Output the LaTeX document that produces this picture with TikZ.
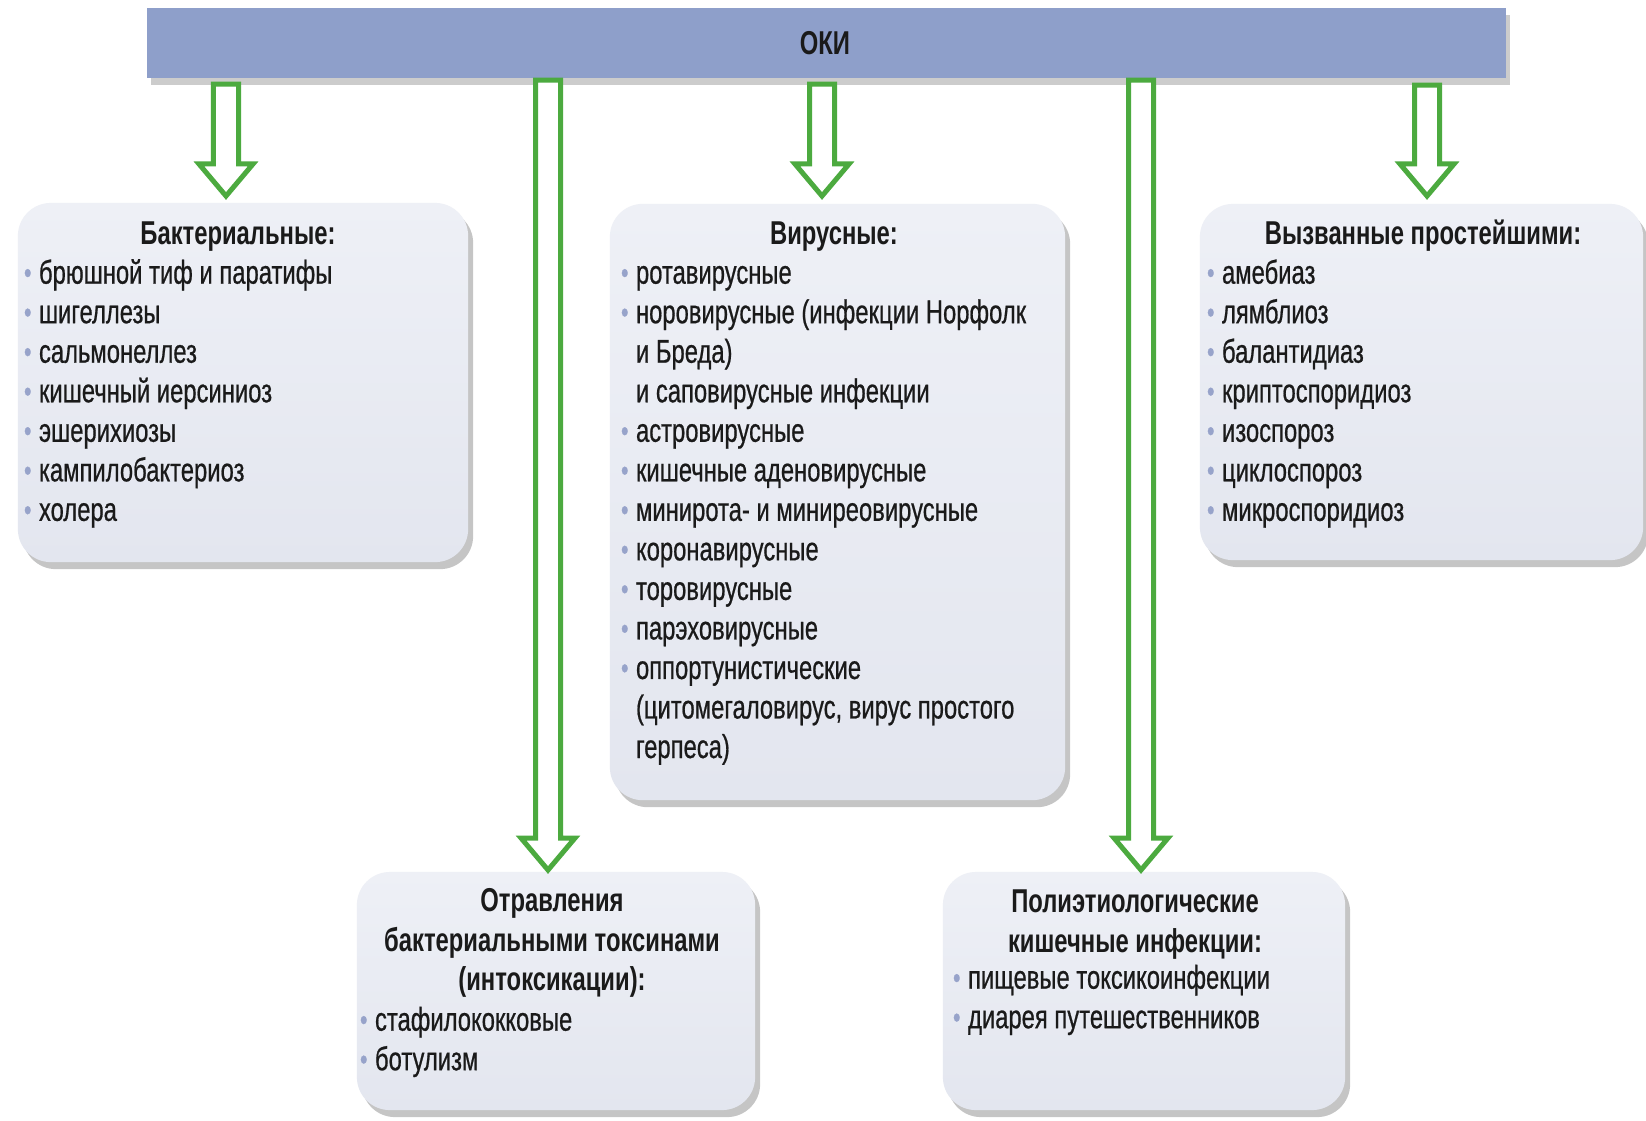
\documentclass[tikz,border=0pt]{standalone}
\usepackage{fontspec}
\setmainfont[FakeStretch=0.72, UprightFeatures={FakeBold=0.6}]{Liberation Sans}
\usetikzlibrary{shadows,calc}
\definecolor{barc}{HTML}{8E9FCA}
\definecolor{grn}{HTML}{4CAA3F}
\definecolor{boxtop}{HTML}{EEF0F6}
\definecolor{boxbot}{HTML}{E3E6EF}
\definecolor{bulc}{HTML}{97A3CA}
\definecolor{txt}{HTML}{1A1A1A}
\newcommand\bl{\strut\makebox[1.5mm][l]{\raisebox{0.2pt}{\textcolor{bulc}{\fontsize{8.5}{8.5}\selectfont •}}}}
\newcommand\cl{\strut\hspace*{1.5mm}}
\newcommand\blockarrow[2]{\draw[garr] let \p1=(#1), \p2=(#2) in
  (\x1-0.125cm,\y1) -- (\x1+0.125cm,\y1) -- (\x1+0.125cm,\y2+0.32cm) -- (\x1+0.27cm,\y2+0.32cm)
  -- (\x1,\y2) -- (\x1-0.27cm,\y2+0.32cm) -- (\x1-0.125cm,\y2+0.32cm) -- cycle;}
\begin{document}
\begin{tikzpicture}[x=0.01cm,y=-0.01cm,
  boxst/.style={rectangle, rounded corners=0.33cm, top color=boxtop, bottom color=boxbot, draw=none, inner sep=0pt,
    drop shadow={shadow xshift=0.05cm, shadow yshift=-0.07cm, fill=black!50, opacity=0.45}},
  barst/.style={rectangle, fill=barc, draw=none, inner sep=0pt,
    drop shadow={shadow xshift=0.04cm, shadow yshift=-0.07cm, fill=black!50, opacity=0.4}},
  txtst/.style={inner sep=0pt, outer sep=0pt, text=txt, font=\fontsize{9.4}{11.24}\selectfont},
  titlest/.style={txtst, align=center, anchor=north, font=\fontsize{9.4}{11.24}\selectfont\bfseries},
  listst/.style={txtst, align=left, anchor=north west},
  garr/.style={draw=grn, fill=white, line width=0.05cm, line join=miter}]
\useasboundingbox (0,0) rectangle (1646,1120);
\fill[white] (0,0) rectangle (1646,1120);

% top bar
\node[barst, minimum width=13.59cm, minimum height=0.70cm] (bar) at (826.5,43) {};
\node[txtst, font=\fontsize{9.4}{11.24}\selectfont\bfseries] (okit) at (825,43) {ОКИ};

% boxes
\node[boxst, minimum width=4.50cm, minimum height=3.59cm] (bact) at (243,382.5) {};
\node[boxst, minimum width=4.55cm, minimum height=5.96cm] (vir) at (837.5,502) {};
\node[boxst, minimum width=4.43cm, minimum height=3.56cm] (proto) at (1421.5,382) {};
\node[boxst, minimum width=3.98cm, minimum height=2.38cm] (tox) at (556,991) {};
\node[boxst, minimum width=4.02cm, minimum height=2.38cm] (poly) at (1144,991) {};

% arrows
\coordinate (a1s) at (226,84);  \coordinate (a1e) at (226,196);
\coordinate (a2s) at (548,80);  \coordinate (a2e) at (548,870);
\coordinate (a3s) at (822,84);  \coordinate (a3e) at (822,196);
\coordinate (a4s) at (1141,80); \coordinate (a4e) at (1141,870);
\coordinate (a5s) at (1427,85); \coordinate (a5e) at (1427,196);
\blockarrow{a1s}{a1e}
\blockarrow{a2s}{a2e}
\blockarrow{a3s}{a3e}
\blockarrow{a4s}{a4e}
\blockarrow{a5s}{a5e}

% bacterial
\node[titlest] (bactT) at (238,217) {\strut Бактериальные:};
\node[listst] (bactL) at (24,256) {\bl брюшной тиф и паратифы\\ \bl шигеллезы\\ \bl сальмонеллез\\ \bl кишечный иерсиниоз\\ \bl эшерихиозы\\ \bl кампилобактериоз\\ \bl холера};

% viral
\node[titlest] (virT) at (834,217) {\strut Вирусные:};
\node[listst] (virL) at (621,256) {\bl ротавирусные\\ \bl норовирусные (инфекции Норфолк\\ \cl и Бреда)\\ \cl и саповирусные инфекции\\ \bl астровирусные\\ \bl кишечные аденовирусные\\ \bl минирота- и миниреовирусные\\ \bl коронавирусные\\ \bl торовирусные\\ \bl парэховирусные\\ \bl оппортунистические\\ \cl (цитомегаловирус, вирус простого\\ \cl герпеса)};

% protozoa
\node[titlest] (protoT) at (1423,217) {\strut Вызванные простейшими:};
\node[listst] (protoL) at (1207,256) {\bl амебиаз\\ \bl лямблиоз\\ \bl балантидиаз\\ \bl криптоспоридиоз\\ \bl изоспороз\\ \bl циклоспороз\\ \bl микроспоридиоз};

% toxins
\node[titlest] (toxT) at (552,884) {\strut Отравления\\ \strut бактериальными токсинами\\ \strut (интоксикации):};
\node[listst] (toxL) at (360,1003) {\bl стафилококковые\\ \bl ботулизм};

% polyetiological
\node[titlest] (polyT) at (1135,885) {\strut Полиэтиологические\\ \strut кишечные инфекции:};
\node[listst] (polyL) at (953,961) {\bl пищевые токсикоинфекции\\ \bl диарея путешественников};
\end{tikzpicture}
\end{document}
